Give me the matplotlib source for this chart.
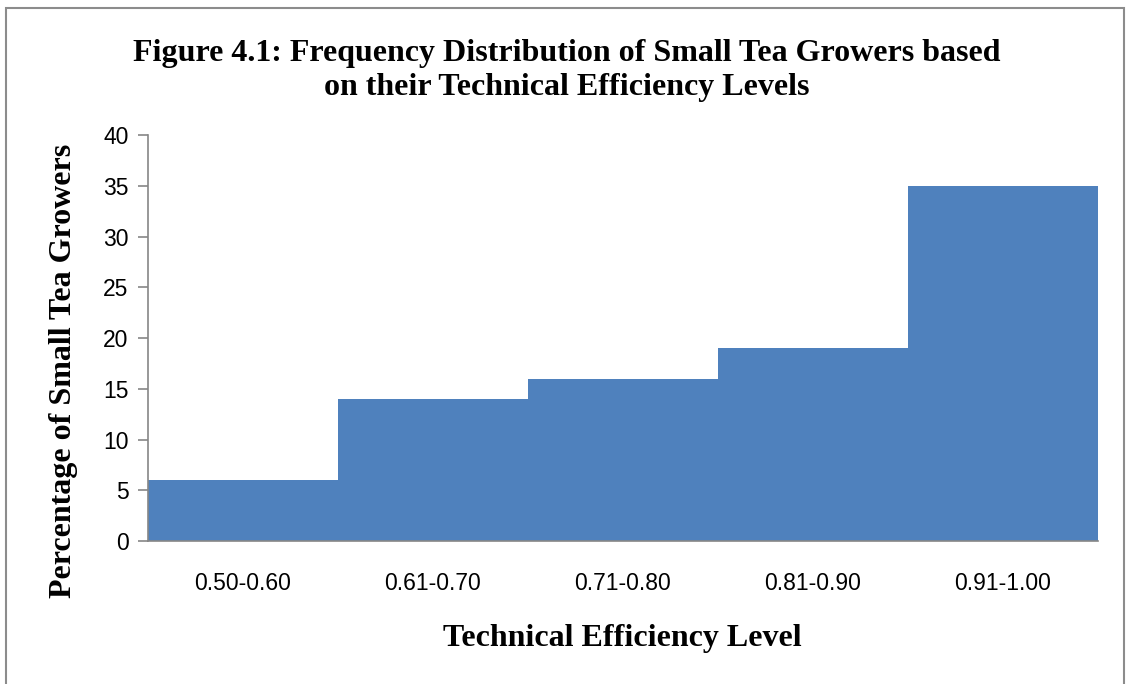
import matplotlib.pyplot as plt
from matplotlib.patches import Rectangle

# tranches d'efficacite technique et pourcentage de producteurs
classes = ["0.50-0.60", "0.61-0.70", "0.71-0.80", "0.81-0.90", "0.91-1.00"]
pourcentages = [6, 14, 16, 19, 35]
y_ticks = [0, 5, 10, 15, 20, 25, 30, 35, 40]

fig = plt.figure(figsize=(11.26, 6.84), dpi=100)
ax = fig.add_axes([0.1314, 0.209, 0.8437, 0.5936])

# histogramme sans espace entre les barres
x = range(len(classes))
ax.bar(x, pourcentages, width=1.0, color="#4F81BD", edgecolor="none")

ax.set_xlim(-0.5, len(classes) - 0.5)
ax.set_ylim(0, 40)
ax.set_yticks(y_ticks)
ax.set_xticks(list(x))
ax.set_xticklabels(classes)

for s in ["top", "right"]:
    ax.spines[s].set_visible(False)
for s in ["left", "bottom"]:
    ax.spines[s].set_color("#868686")
    ax.spines[s].set_linewidth(1.2)

ax.tick_params(axis="y", length=7, width=1.2, color="#868686", pad=7,
               labelsize=16.5)
ax.tick_params(axis="x", length=0, pad=22, labelsize=16.5)
for lbl in ax.get_xticklabels() + ax.get_yticklabels():
    lbl.set_family("Liberation Sans")

serif = "Liberation Serif"
fig.text(0.503, 0.897,
         "Figure 4.1: Frequency Distribution of Small Tea Growers based\non their Technical Efficiency Levels",
         ha="center", va="center", fontsize=23, fontweight="bold",
         family=serif, linespacing=1.24)
fig.text(0.553, 0.066, "Technical Efficiency Level", ha="center", va="center",
         fontsize=23, fontweight="bold", family=serif)
fig.text(0.056, 0.458, "Percentage of Small Tea Growers", ha="center",
         va="center", rotation=90, fontsize=23, fontweight="bold", family=serif)

# cadre autour de la figure
fig.patches.append(Rectangle((0.005, -0.01), 0.993, 0.998, transform=fig.transFigure,
                             fill=False, edgecolor="#8c8c8c", linewidth=1.5))

fig.savefig("out.png", dpi=100, facecolor="white")
